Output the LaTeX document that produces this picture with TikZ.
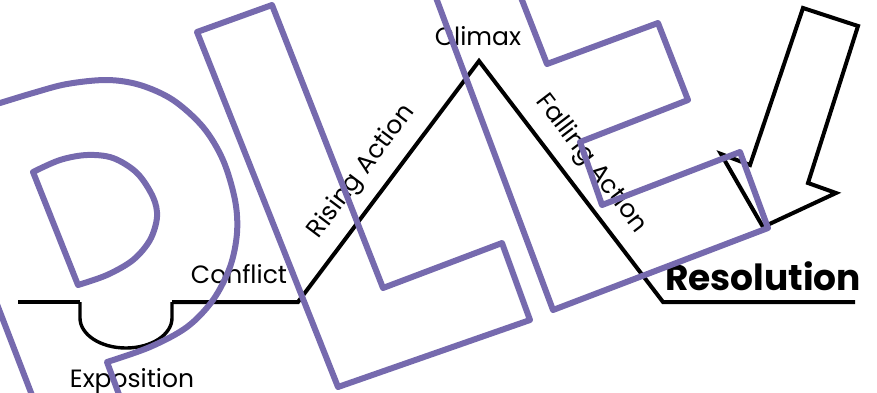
\documentclass[tikz,border=0pt]{standalone}
\usepackage{fontspec}
\setmainfont{Poppins}
\definecolor{wm}{RGB}{118,106,174}
\begin{document}
\begin{tikzpicture}[x=1pt,y=-1pt,
  plotline/.style={line width=4pt, line join=miter, line cap=butt, black},
  dipline/.style={line width=3.4pt, black},
  lbl/.style={font=\fontsize{25}{29}\selectfont, inner sep=0pt},
  reslbl/.style={font=\fontsize{36}{40}\selectfont\bfseries, inner sep=0pt},
  wmline/.style={draw=wm, line width=6pt, line join=round},
  arrowbox/.style={draw=black, line width=4pt, line join=miter}]
\useasboundingbox (0,0) rectangle (877,392);
\clip (0,0) rectangle (877,392);

% plot line coordinates
\coordinate (p0) at (18,302);
\coordinate (p1) at (80,302);
\coordinate (d1) at (80,318);
\coordinate (d2) at (172,318);
\coordinate (p2) at (172,302);
\coordinate (p3) at (298,302);
\coordinate (peak) at (479,61);
\coordinate (p4) at (663,302);
\coordinate (p5) at (855,302);

\draw[plotline] (p0) -- (p1);
\draw[dipline] (p1) -- (d1) .. controls (80,334.6) and (100.6,348) .. (126,348)
  .. controls (151.4,348) and (172,334.6) .. (d2) -- (p2);
\draw[plotline] (p2) -- (p3) -- (peak) -- (p4) -- (p5);

% labels
\node[lbl, anchor=base] (climax) at (478,45) {Climax};
\node[lbl, anchor=base] (conflict) at (239,283) {Conflict};
\node[lbl, anchor=base] (expo) at (132,387) {Exposition};
\node[lbl, rotate=53] (rising) at (362,172) {Rising Action};
\node[lbl, rotate=-52.7] (falling) at (591,164) {Falling Action};
\node[reslbl, anchor=base] (res) at (763,290) {Resolution};

% block arrow
\coordinate (a1) at (803,8);
\coordinate (a2) at (858,26);
\coordinate (a3) at (808,183);
\coordinate (a4) at (836,193);
\coordinate (a5) at (763,227);
\coordinate (a6) at (721,154);
\coordinate (a7) at (750,165);
\draw[arrowbox] (a1) -- (a2) -- (a3) -- (a4) -- (a5) -- (a6) -- (a7) -- cycle;

% watermark letters
% P outer
\draw[wmline] plot[smooth, tension=0.55] coordinates {(-30,112) (0,103) (33,93) (67,84) (107,80) (140,85) (173,100) (203,127) (223,160) (235,200) (237,233) (230,267) (213,300) (187,327) (150,347) (107,362)} -- (121,400);
\draw[wmline] (-5,299) -- (35,403);
% P counter
\draw[wmline] plot[smooth, tension=0.55] coordinates {(33,172) (60,160) (87,155) (113,158) (137,173) (153,197) (157,217) (150,240) (133,260) (107,275) (78,285)} -- cycle;
% L
\draw[wmline] (197,32) -- (272,5) -- (383,288) -- (502,243) -- (530,320) -- (338,387) -- cycle;
% E
\draw[wmline] (420,-45) -- (553,310) -- (768,228) -- (740,152) -- (602,205) -- (580,142) -- (688,100) -- (658,23) -- (547,64) -- (520,-5) -- (501,-48);
\end{tikzpicture}
\end{document}
